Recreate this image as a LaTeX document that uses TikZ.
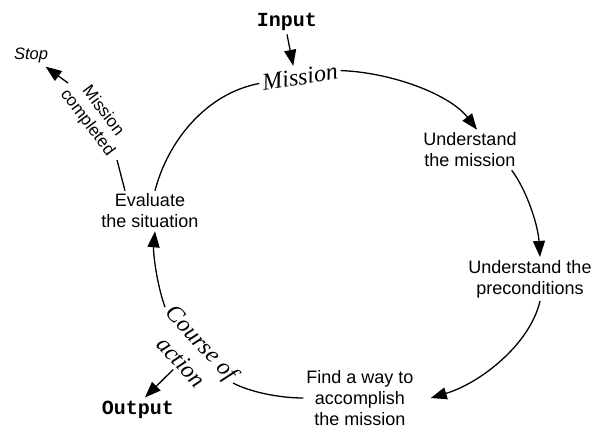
\documentclass[tikz,border=0pt]{standalone}
\usepackage{fontspec}
\setmainfont{Liberation Serif}
\setsansfont{Liberation Sans}
\setmonofont{Liberation Mono}
\usetikzlibrary{arrows.meta}
\begin{document}
\begin{tikzpicture}[x=1pt,y=-1pt,
  every node/.style={inner sep=3pt},
  lab/.style={font=\sffamily\fontsize{18}{21}\selectfont, align=center},
  ital/.style={font=\rmfamily\itshape\fontsize{24}{28}\selectfont, align=center},
  mono/.style={font=\ttfamily\bfseries\fontsize{20}{22}\selectfont},
  small/.style={font=\sffamily\fontsize{17}{19.5}\selectfont, align=center},
  arr/.style={line width=1.3pt, -{Triangle[length=16pt,width=12pt]}},
  ln/.style={line width=1.3pt}]
\useasboundingbox (0,0) rectangle (592,428);

\node[mono, anchor=base] (input) at (287,27) {Input};
\node[ital, rotate=9] (mission) at (300,77) {Mission};
\node[lab] (um) at (470,150) {Understand\\the mission};
\node[lab] (uc) at (530,279) {Understand the\\preconditions};
\node[lab] (find) at (360,398) {Find a way to\\accomplish\\the mission};
\node[lab] (eval) at (150,211) {Evaluate\\the situation};
\node[ital, rotate=-47] (course) at (192,352) {Course of\\action};
\node[small, rotate=-53] (done) at (95,117) {Mission\\completed};
\node[font=\sffamily\itshape\fontsize{16.5}{18}\selectfont, anchor=base] (stop) at (31,60) {Stop};
\node[mono, anchor=base] (output) at (138,414) {Output};

\coordinate (cA) at (233,383);
\coordinate (cB) at (165,307);
\coordinate (mA) at (117,160);
\coordinate (mB) at (68,83);

\draw[arr] (input.south) -- ([xshift=-5pt]mission.north);
\draw[arr] (mission.east) .. controls +(52,2) and +(-27,-35) .. ([xshift=7pt]um.north);
\draw[arr] ([xshift=-8pt]um.south east) .. controls +(15,20) and +(-2,-32) .. ([xshift=10pt]uc.north);
\draw[arr] ([xshift=10pt]uc.south) .. controls +(-10,43) and +(50,-15) .. ([xshift=14pt]find.east);
\draw[ln] (find.west) .. controls +(-24,0) and +(17,9) .. (cA);
\draw[arr] (cB) .. controls +(-8,-22) and +(-2,22) .. ([xshift=5pt]eval.south);
\draw[ln] ([xshift=5pt]eval.north) .. controls +(13,-50) and +(-53,10) .. (mission.west);
\draw[ln] ([xshift=-25pt]eval.north) -- (mA);
\draw[arr] (mB) -- (stop);
\draw[arr] (course.south) -- ([xshift=7pt]output.north);
\end{tikzpicture}
\end{document}
